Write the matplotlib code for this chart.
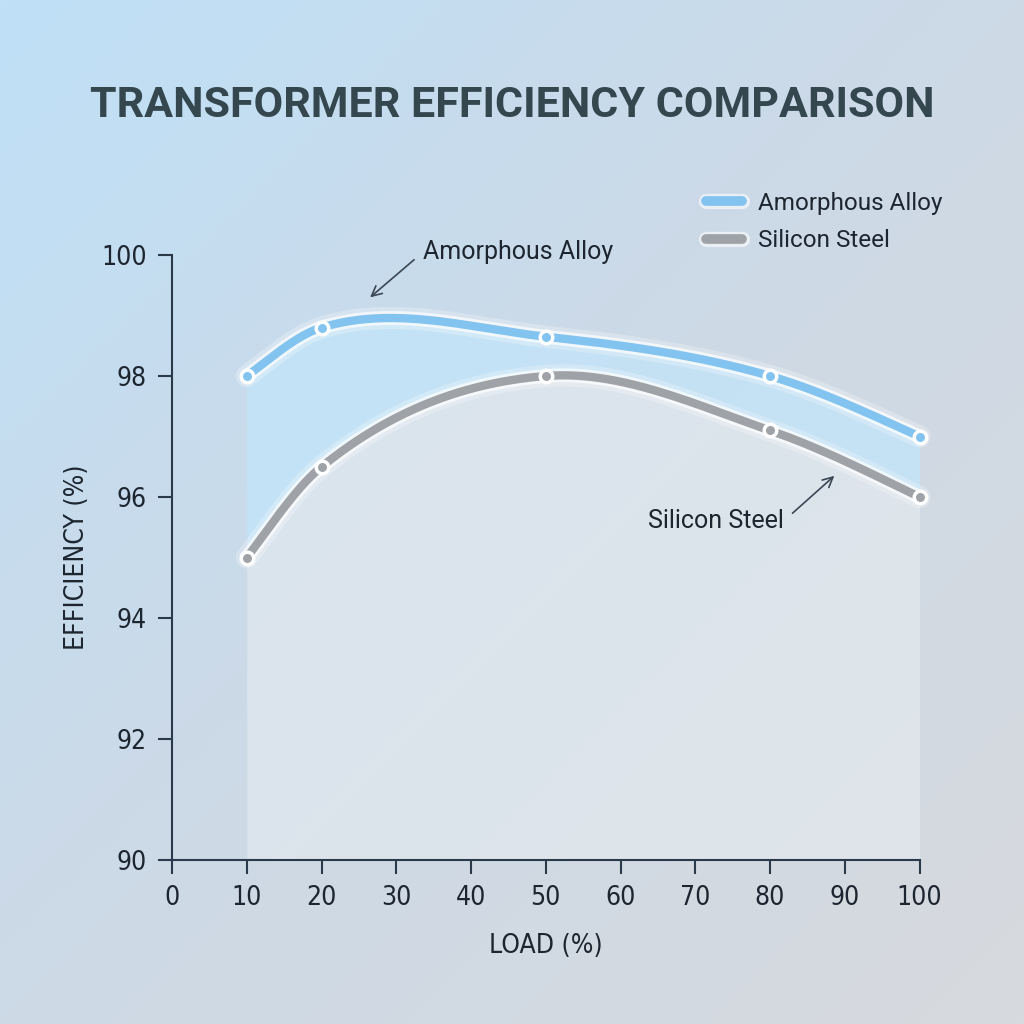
import numpy as np
import matplotlib
matplotlib.use("Agg")
import matplotlib.pyplot as plt
import matplotlib.patheffects as pe
from matplotlib.lines import Line2D
from matplotlib.colors import LinearSegmentedColormap

# 数据
load = [10, 20, 50, 80, 100]
amorphous = [98.0, 98.8, 98.65, 98.0, 97.0]
silicon = [95.0, 96.5, 98.0, 97.1, 96.0]
xticks = list(range(0, 101, 10))
yticks = [90, 92, 94, 96, 98, 100]

blue = "#82c3f0"
gray = "#9fa3a8"
dark = "#2b3a4a"


# hermite curve; slope = mean of catmull-rom slope and 3-point parabola slope
def smooth(x, y, n=300):
    x = np.asarray(x, float)
    y = np.asarray(y, float)
    k = len(x)
    h = np.diff(x)
    d = np.diff(y) / h
    m = np.zeros(k)
    for i in range(1, k - 1):
        m_cr = (y[i + 1] - y[i - 1]) / (x[i + 1] - x[i - 1])
        m_pb = (h[i] * d[i - 1] + h[i - 1] * d[i]) / (h[i - 1] + h[i])
        m[i] = 0.5 * (m_cr + m_pb)
    m[0] = 0.5 * (d[0] + d[0] - h[0] * (d[1] - d[0]) / (h[0] + h[1]))
    m[-1] = 0.5 * (d[-1] + d[-1] + h[-1] * (d[-1] - d[-2]) / (h[-1] + h[-2]))
    xs = np.linspace(x[0], x[-1], n)
    idx = np.clip(np.searchsorted(x, xs) - 1, 0, k - 2)
    hh = x[idx + 1] - x[idx]
    t = (xs - x[idx]) / hh
    h00 = 2 * t**3 - 3 * t**2 + 1
    h10 = t**3 - 2 * t**2 + t
    h01 = -2 * t**3 + 3 * t**2
    h11 = t**3 - t**2
    ys = h00 * y[idx] + h10 * hh * m[idx] + h01 * y[idx + 1] + h11 * hh * m[idx + 1]
    return xs, ys


fig = plt.figure(figsize=(10.24, 10.24), dpi=100)

# 背景渐变
bg = fig.add_axes([0, 0, 1, 1], zorder=-10)
gx, gy = np.meshgrid(np.linspace(0, 1, 200), np.linspace(0, 1, 200))
grad = (gx * 0.6 + gy * 0.6) / 1.2
cmap = LinearSegmentedColormap.from_list("bg", ["#bfe0f7", "#cdd9e6", "#d7dade"])
bg.imshow(grad, cmap=cmap, extent=[0, 1, 0, 1], origin="upper", aspect="auto")
bg.axis("off")

ax = fig.add_axes([0.168, 0.16, 0.730, 0.591])
ax.set_facecolor("none")
ax.set_xlim(0, 100)
ax.set_ylim(90, 100)

xa, ya = smooth(load, amorphous)
xs, ys = smooth(load, silicon)

ax.fill_between(xa, ys, ya, color="#c2e5fa", alpha=0.75, lw=0, zorder=1)
ax.fill_between(xs, 90, ys, color="#e6ecf1", alpha=0.6, lw=0, zorder=1)

glow = [pe.Stroke(linewidth=16, foreground="white", alpha=0.25),
        pe.Stroke(linewidth=10, foreground="white", alpha=0.7), pe.Normal()]
ax.plot(xa, ya, color=blue, lw=6, solid_capstyle="round", path_effects=glow, zorder=3, clip_on=False)
ax.plot(xs, ys, color=gray, lw=6, solid_capstyle="round", path_effects=glow, zorder=3, clip_on=False)
ax.plot(load, amorphous, "o", color=blue, ms=9, mec="white", mew=2.5, zorder=4, clip_on=False)
ax.plot(load, silicon, "o", color=gray, ms=9, mec="white", mew=2.5, zorder=4, clip_on=False)

for s in ["top", "right"]:
    ax.spines[s].set_visible(False)
for s in ["left", "bottom"]:
    ax.spines[s].set_color(dark)
    ax.spines[s].set_linewidth(1.5)

ax.set_xticks(xticks)
ax.set_yticks(yticks)
ax.tick_params(colors=dark, length=10, width=1.5, labelsize=19, pad=8)
for lab in ax.get_xticklabels() + ax.get_yticklabels():
    lab.set_family("DejaVu Sans")
    lab.set_stretch("condensed")
    lab.set_color("#1d2630")

ax.set_xlabel("LOAD (%)", fontsize=19, family="DejaVu Sans", fontstretch="condensed",
              color="#1d2630", labelpad=16)
ax.set_ylabel("EFFICIENCY (%)", fontsize=19, family="DejaVu Sans", fontstretch="condensed",
              color="#1d2630", labelpad=8)

# 标注
ax.annotate("Amorphous Alloy", xy=(26.5, 99.3), xytext=(33.6, 100.05),
            fontsize=18, family="Roboto", color="#1d2630", va="center", ha="left",
            arrowprops=dict(arrowstyle="->", color="#3a4755", lw=1.2, shrinkA=6, shrinkB=0,
                            relpos=(0, 0.5)),
            annotation_clip=False)
ax.annotate("Silicon Steel", xy=(88.6, 96.35), xytext=(81.8, 95.6),
            fontsize=18, family="Roboto", color="#1d2630", va="center", ha="right",
            arrowprops=dict(arrowstyle="->", color="#3a4755", lw=1.2, shrinkA=6, shrinkB=0,
                            relpos=(1, 0.5)),
            annotation_clip=False)

# 图例
handles = [Line2D([], [], color=blue, lw=7, solid_capstyle="round",
                  path_effects=[pe.Stroke(linewidth=11, foreground="white", alpha=0.6), pe.Normal()]),
           Line2D([], [], color=gray, lw=7, solid_capstyle="round",
                  path_effects=[pe.Stroke(linewidth=11, foreground="white", alpha=0.6), pe.Normal()])]
fig.legend(handles, ["Amorphous Alloy", "Silicon Steel"], loc="upper left",
           bbox_to_anchor=(0.668, 0.834), frameon=False, handlelength=1.5,
           handletextpad=0.65, labelspacing=0.6, prop={"family": "Roboto", "size": 17.5},
           labelcolor="#1d2630")

fig.text(0.5, 0.897, "TRANSFORMER EFFICIENCY COMPARISON", ha="center", va="center",
         fontsize=31, fontweight="bold", family="Roboto", color="#34474f")

fig.savefig("out.png", dpi=100)
